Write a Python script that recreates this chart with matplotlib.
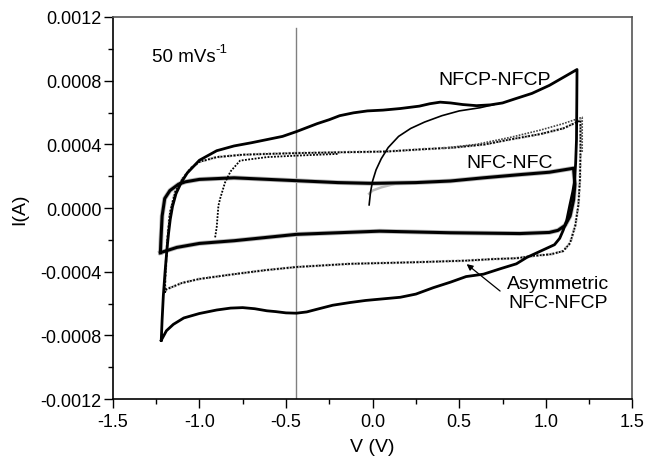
import matplotlib
matplotlib.use("Agg")
import matplotlib.pyplot as plt
from matplotlib.ticker import MultipleLocator, FuncFormatter

plt.rcParams['font.family'] = ['Liberation Sans', 'DejaVu Sans']
plt.rcParams['axes.unicode_minus'] = False

# ---- NFCP-NFCP (solid) : forward sweep then reverse sweep ----
nfcp_v = [-1.22, -1.215, -1.208, -1.198, -1.188, -1.178, -1.168, -1.155, -1.135, -1.105,
          -1.07, -1.0, -0.9, -0.8, -0.7, -0.61, -0.52, -0.44, -0.38, -0.32, -0.25, -0.19,
          -0.11, -0.03, 0.06, 0.16, 0.27, 0.33, 0.39, 0.45, 0.52, 0.60, 0.68, 0.75,
          0.82, 0.92, 1.02, 1.10, 1.18,
          1.179, 1.177, 1.172, 1.165, 1.155, 1.139, 1.12, 1.10, 1.08, 1.05, 1.0, 0.95,
          0.89, 0.83, 0.74, 0.64, 0.54, 0.45, 0.35, 0.25, 0.16, 0.06, -0.04, -0.13,
          -0.23, -0.32, -0.38, -0.44, -0.50, -0.56, -0.61, -0.68, -0.75, -0.82, -0.90,
          -1.0, -1.09, -1.15, -1.19, -1.22]
nfcp_i = [-0.00083, -0.0007, -0.00055, -0.0004, -0.00027, -0.00016, -0.00007, 0.00001,
          0.00009, 0.00016, 0.00022, 0.0003, 0.00036, 0.00039, 0.00041, 0.00043,
          0.00045, 0.00048, 0.000505, 0.00053, 0.000555, 0.00058, 0.000598, 0.00061,
          0.000615, 0.000625, 0.00064, 0.000655, 0.000665, 0.00066, 0.00065, 0.000643,
          0.000648, 0.00066, 0.000685, 0.00072, 0.00077, 0.00082, 0.00087,
          0.0007, 0.00043, 0.00028, 0.00016, 0.0001, 0.00002, -0.00008, -0.00014,
          -0.00019, -0.00023, -0.000255, -0.00028, -0.00031, -0.00035, -0.00038,
          -0.000415, -0.00043, -0.000465, -0.0005, -0.00054, -0.00056, -0.00057,
          -0.00058, -0.000593, -0.00061, -0.000635, -0.000652, -0.00066, -0.000658,
          -0.00065, -0.000645, -0.000632, -0.000625, -0.000628, -0.00064, -0.000662,
          -0.00069, -0.00073, -0.00077, -0.00083]
# initial charging trace of NFCP-NFCP
nfcp0_v = [-0.02, -0.012, 0.0, 0.02, 0.05, 0.09, 0.15, 0.22, 0.30, 0.40, 0.50, 0.62, 0.70]
nfcp0_i = [0.00002, 0.0001, 0.00017, 0.00024, 0.00031, 0.00038, 0.00045, 0.0005,
           0.00054, 0.00058, 0.00061, 0.00063, 0.00065]

# ---- NFC-NFC (noisy thick) ----
nfc_v = [-1.225, -1.222, -1.215, -1.20, -1.17, -1.12, -1.08, -1.0, -0.8, -0.6, -0.44,
         -0.2, 0.0, 0.25, 0.45, 0.64, 0.85, 1.02, 1.16,
         1.168, 1.16, 1.14, 1.11, 1.07, 1.02, 0.85, 0.45, 0.04, -0.13, -0.44, -0.8,
         -1.0, -1.13, -1.225]
nfc_i = [-0.00028, -0.0002, -0.00005, 0.00006, 0.00011, 0.00015, 0.000165, 0.00018,
         0.00019, 0.00018, 0.000172, 0.00016, 0.000155, 0.00016, 0.00017, 0.00019,
         0.00021, 0.000225, 0.00025,
         0.00015, 0.00005, -0.00005, -0.00011, -0.00014, -0.000153, -0.00016,
         -0.000155, -0.000145, -0.000152, -0.000165, -0.000205, -0.000222,
         -0.000247, -0.00028]
nfc0_v = [-0.02, 0.0, 0.05, 0.12]
nfc0_i = [0.00009, 0.00011, 0.00013, 0.00015]

# ---- Asymmetric NFC-NFCP (dotted) ----
asym_v = [-1.20, -1.195, -1.185, -1.17, -1.14, -1.10, -1.05, -1.0, -0.9, -0.75, -0.61,
          -0.44, -0.2, 0.08, 0.3, 0.47, 0.65, 0.79, 0.97, 1.10, 1.20,
          1.20, 1.197, 1.188, 1.17, 1.14, 1.10, 1.03, 0.93, 0.83, 0.7, 0.54, 0.25,
          -0.13, -0.44, -0.62, -0.8, -1.0, -1.1, -1.19, -1.20]
asym_i = [-0.00053, -0.0004, -0.0002, -0.00003, 0.0001, 0.00018, 0.00025, 0.00029,
          0.00032, 0.000335, 0.00034, 0.000345, 0.00035, 0.000355, 0.00037, 0.00038,
          0.0004, 0.00043, 0.000465, 0.0005, 0.00055,
          0.00035, 0.00018, 0.00002, -0.00011, -0.00022, -0.00027, -0.00029, -0.0003,
          -0.000315, -0.00032, -0.00033, -0.00034, -0.00035, -0.00037, -0.00039,
          -0.000415, -0.000445, -0.00047, -0.00051, -0.00053]
# second cycle of the asymmetric cell, visible near the right end of the upper branch
asym2_v = [0.40, 0.60, 0.80, 0.97, 1.10, 1.21, 1.21]
asym2_i = [0.000375, 0.0004, 0.000445, 0.00049, 0.00053, 0.00057, 0.00035]
asym0_v = [-0.909, -0.90, -0.89, -0.88, -0.852, -0.82, -0.765, -0.61, -0.444, -0.2]
asym0_i = [-0.000184, -0.00012, 0.000015, 0.00006, 0.00016, 0.00023, 0.000298,
           0.00032, 0.000329, 0.00034]

marker_v = -0.445

fig = plt.figure(figsize=(6.48, 4.6), dpi=100)
ax = fig.add_axes([0.174, 0.130, 0.802, 0.831])

ax.axvline(marker_v, ymin=0, ymax=0.972, color='#808080', lw=1.0, zorder=1)

ax.plot(nfc_v, nfc_i, color='#bbbbbb', lw=3.4, zorder=2, solid_joinstyle='round')
ax.plot(nfc0_v, nfc0_i, color='#bbbbbb', lw=1.8, zorder=2)
ax.plot(nfc_v, nfc_i, color='black', lw=2.2, zorder=3, solid_joinstyle='round')

ax.plot(asym_v, asym_i, color='#b0b0b0', lw=2.0, ls=(0, (1, 0.8)), zorder=2)
ax.plot(asym_v, asym_i, color='black', lw=1.3, ls=(0, (1, 0.8)), zorder=3)
ax.plot(asym2_v, asym2_i, color='#444444', lw=1.2, ls=(0, (1, 0.8)), zorder=3)
ax.plot(asym0_v, asym0_i, color='black', lw=1.3, ls=(0, (1, 0.8)), zorder=3)

ax.plot(nfcp_v, nfcp_i, color='black', lw=2.0, zorder=4, solid_joinstyle='round')
ax.plot(nfcp0_v, nfcp0_i, color='black', lw=1.2, zorder=4)

ax.set_xlim(-1.5, 1.5)
ax.set_ylim(-0.0012, 0.0012)
ax.xaxis.set_major_locator(MultipleLocator(0.5))
ax.xaxis.set_minor_locator(MultipleLocator(0.25))
ax.yaxis.set_major_locator(MultipleLocator(0.0004))
ax.yaxis.set_minor_locator(MultipleLocator(0.0002))
ax.xaxis.set_major_formatter(FuncFormatter(lambda v, p: f"{v:.1f}"))
ax.yaxis.set_major_formatter(FuncFormatter(lambda v, p: f"{v:.4f}" if abs(v) > 1e-9 else "0.0000"))
ax.tick_params(which='major', direction='out', length=6.5, width=1.0, labelsize=13)
ax.tick_params(which='minor', direction='out', length=3.6, width=1.0)
ax.tick_params(axis='x', which='major', pad=3.5)
ax.tick_params(axis='y', which='major', pad=1.5)

for s in ['left', 'bottom']:
    ax.spines[s].set_color('black')
    ax.spines[s].set_linewidth(1.2)
for s in ['top', 'right']:
    ax.spines[s].set_color('#555555')
    ax.spines[s].set_linewidth(1.2)

ax.set_xlabel('V (V)', fontsize=14, labelpad=6)
ax.set_ylabel('I(A)', fontsize=14, labelpad=9)

t = ax.text(-1.273, 0.00095, '50 mVs', fontsize=13.5, ha='left', va='center')
ax.annotate('-1', xy=(1.0, 0.95), xycoords=t, ha='left', va='center', fontsize=9.5)
ax.text(0.706, 0.00081, 'NFCP-NFCP', fontsize=14, ha='center', va='center')
ax.text(0.793, 0.000285, 'NFC-NFC', fontsize=14, ha='center', va='center')
ax.text(1.07, -0.000535, 'Asymmetric\nNFC-NFCP', fontsize=14, ha='center', va='center',
        linespacing=1.15)
ax.annotate('', xy=(0.543, -0.000352), xytext=(0.736, -0.000521),
            arrowprops=dict(arrowstyle='-|>', color='black', lw=0.9,
                            mutation_scale=9, shrinkA=0, shrinkB=0))

fig.savefig('out.png', dpi=100)
